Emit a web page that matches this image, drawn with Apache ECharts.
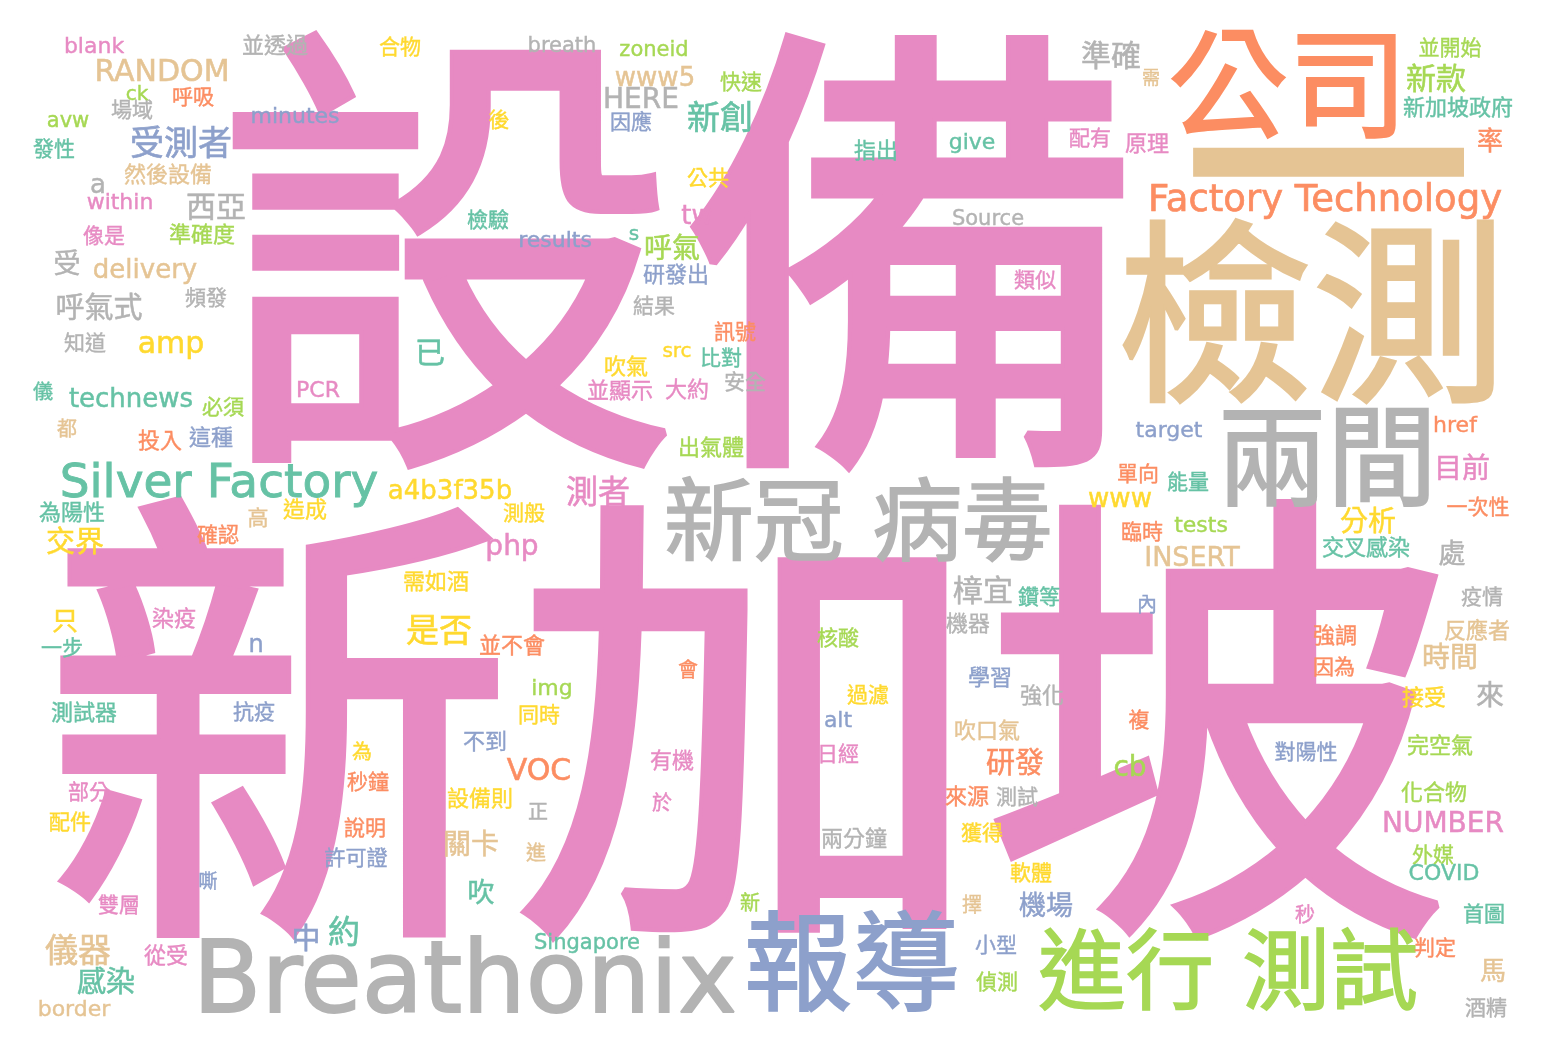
<!DOCTYPE html>
<html>
<head>
<meta charset="utf-8">
<script src="https://cdn.jsdelivr.net/npm/echarts@6.0.0/dist/echarts.min.js"></script>
<style>
  html, body { margin: 0; padding: 0; background: #fff; }
  #main { width: 1548px; height: 1052px; }
</style>
</head>
<body>
<div id="main"></div>
<script>
// word cloud laid out on a 1548 x 1052 plane: [word, weight (font px), x, y]
const pinkWords = [
  ['設備', 465, 680, 258], ['新加坡', 470, 748, 727], ['測者', 32, 598, 492], ['目前', 28, 1462, 468],
  ['php', 28, 512, 545], ['NUMBER', 28, 1443, 822], ['tw', 26, 697, 214], ['blank', 22, 94, 45],
  ['within', 22, 120, 201], ['PCR', 22, 318, 389], ['像是', 21, 104, 236], ['類似', 21, 1035, 280],
  ['配有', 21, 1090, 138], ['原理', 22, 1147, 143], ['染疫', 22, 174, 618], ['並顯示', 22, 620, 390],
  ['大約', 22, 687, 389], ['日經', 21, 838, 754], ['有機', 22, 672, 760], ['於', 20, 662, 803],
  ['部分', 21, 89, 792], ['雙層', 21, 119, 905], ['從受', 22, 166, 955], ['秒', 20, 1305, 915]
];
const tanWords = [
  ['檢測', 195, 1312, 315], ['一', 290, 1328, 170], ['儀器', 33, 78, 950], ['關卡', 28, 471, 844],
  ['時間', 28, 1450, 657], ['RANDOM', 30, 162, 70], ['INSERT', 27, 1192, 556], ['delivery', 26, 145, 268],
  ['www5', 26, 655, 76], ['馬', 26, 1493, 970], ['border', 22, 74, 1008], ['然後設備', 22, 168, 174],
  ['需', 18, 1151, 77], ['都', 20, 67, 429], ['高', 21, 258, 518], ['進', 20, 536, 853],
  ['吹口氣', 22, 987, 730], ['擇', 20, 972, 905], ['反應者', 22, 1477, 630]
];
const grayWords = [
  ['兩間', 110, 1327, 456], ['新冠 病毒', 90, 858, 521], ['Breathonix', 100, 465, 975], ['西亞', 30, 216, 206],
  ['準確', 30, 1111, 55], ['樟宜', 30, 983, 590], ['呼氣式', 29, 99, 307], ['來', 28, 1490, 695],
  ['HERE', 28, 641, 98], ['處', 27, 1452, 553], ['受', 27, 67, 263], ['a', 26, 98, 183],
  ['breath', 21, 562, 45], ['Source', 21, 988, 218], ['並透過', 22, 275, 45], ['場域', 21, 132, 110],
  ['頻發', 21, 206, 298], ['知道', 21, 85, 343], ['結果', 21, 654, 306], ['正', 20, 538, 812],
  ['安全', 21, 745, 382], ['機器', 22, 968, 623], ['強化', 22, 1042, 695], ['測試', 21, 1017, 797],
  ['兩分鐘', 22, 854, 838], ['疫情', 21, 1482, 597], ['酒精', 21, 1486, 1008]
];
const blueWords = [
  ['報導', 108, 852, 963], ['受測者', 34, 181, 142], ['中', 29, 306, 938], ['機場', 27, 1046, 905],
  ['n', 24, 256, 643], ['minutes', 22, 295, 115], ['results', 22, 555, 239], ['target', 22, 1169, 429],
  ['alt', 22, 838, 719], ['因應', 21, 631, 122], ['研發出', 22, 676, 274], ['這種', 22, 211, 437],
  ['不到', 22, 485, 741], ['內', 20, 1147, 605], ['學習', 22, 990, 677], ['小型', 21, 996, 945],
  ['抗疫', 21, 254, 712], ['許可證', 21, 356, 858], ['嘶', 19, 208, 881], ['對陽性', 21, 1306, 752]
];
const greenWords = [
  ['進行 測試', 88, 1228, 970], ['新款', 30, 1436, 78], ['呼氣', 28, 672, 248], ['cb', 28, 1130, 766],
  ['tests', 22, 1201, 524], ['img', 22, 552, 687], ['zoneid', 21, 654, 49], ['avw', 21, 68, 120],
  ['ck', 20, 137, 93], ['準確度', 22, 202, 234], ['快速', 21, 741, 82], ['並開始', 21, 1450, 48],
  ['必須', 21, 223, 407], ['出氣體', 22, 711, 447], ['核酸', 21, 838, 638], ['偵測', 21, 997, 982],
  ['新', 20, 750, 903], ['完空氣', 22, 1440, 745], ['化合物', 22, 1434, 792], ['外媒', 21, 1433, 855]
];
const tealWords = [
  ['Silver Factory', 47, 219, 480], ['新創', 33, 720, 117], ['約', 32, 344, 932], ['已', 30, 430, 352],
  ['感染', 29, 106, 981], ['吹', 27, 481, 892], ['technews', 26, 131, 397], ['give', 22, 972, 141],
  ['COVID', 22, 1444, 872], ['Singapore', 21, 587, 942], ['s', 20, 634, 233], ['發性', 21, 54, 149],
  ['檢驗', 21, 488, 220], ['指出', 22, 876, 150], ['比對', 21, 721, 358], ['新加坡政府', 22, 1458, 107],
  ['儀', 20, 43, 392], ['為陽性', 22, 72, 512], ['一步', 21, 62, 648], ['鑽等', 21, 1039, 597],
  ['測試器', 22, 84, 712], ['能量', 21, 1188, 482], ['交叉感染', 22, 1366, 547], ['首圖', 21, 1484, 914]
];
const orangeWords = [
  ['公司', 120, 1288, 85], ['Factory Technology', 37, 1325, 197], ['研發', 29, 1015, 762], ['VOC', 30, 539, 769],
  ['率', 26, 1490, 140], ['href', 22, 1455, 424], ['呼吸', 21, 193, 97], ['訊號', 21, 735, 332],
  ['投入', 22, 160, 440], ['確認', 21, 218, 535], ['並不會', 22, 512, 645], ['會', 20, 688, 670],
  ['複', 21, 1139, 720], ['來源', 22, 967, 796], ['秒鐘', 21, 368, 782], ['說明', 21, 365, 828],
  ['單向', 21, 1138, 474], ['一次性', 21, 1478, 507], ['臨時', 21, 1142, 532], ['強調', 22, 1335, 635],
  ['因為', 21, 1334, 667], ['判定', 21, 1435, 948]
];
const yellowWords = [
  ['是否', 33, 439, 630], ['交界', 29, 75, 541], ['amp', 30, 171, 342], ['分析', 28, 1368, 521],
  ['a4b3f35b', 26, 450, 489], ['www', 26, 1120, 497], ['只', 26, 65, 620], ['src', 20, 677, 350],
  ['合物', 21, 400, 47], ['後', 21, 499, 120], ['公共', 21, 708, 178], ['造成', 22, 305, 509],
  ['測般', 21, 524, 513], ['需如酒', 22, 436, 581], ['同時', 21, 539, 715], ['設備則', 22, 480, 798],
  ['吹氣', 22, 626, 366], ['過濾', 21, 868, 695], ['獲得', 21, 982, 833], ['軟體', 21, 1031, 873],
  ['為', 20, 362, 752], ['配件', 21, 70, 822], ['接受', 22, 1424, 697]
];

const groups = [
  [pinkWords, '#e78ac3'], [tanWords, '#e5c494'], [grayWords, '#b3b3b3'], [blueWords, '#8da0cb'],
  [greenWords, '#a6d854'], [tealWords, '#66c2a5'], [orangeWords, '#fc8d62'], [yellowWords, '#ffd92f']
];

var chartDom = document.getElementById('main');
var myChart = echarts.init(chartDom);

function makeSeries(list, color) {
  return {
    type: 'scatter',
    symbolSize: 0,
    silent: true,
    clip: false,
    itemStyle: { opacity: 1 },
    emphasis: { disabled: true },
    data: list.map(w => ({
      name: w[0],
      value: [w[2], w[3]],
      label: {
        fontSize: w[1],
        // glyphs sit a little high on the middle line, and the cloud font is heavier
        offset: [0, Math.round(w[1] * 0.105)],
        textBorderWidth: Math.max(0.4, w[1] * 0.018)
      }
    })),
    label: {
      show: true,
      position: 'inside',
      align: 'center',
      verticalAlign: 'middle',
      formatter: p => p.name,
      color: color,
      textBorderColor: color,
      fontFamily: '"DejaVu Sans", "Noto Sans CJK TC", sans-serif'
    }
  };
}

var option = {
  backgroundColor: '#fff',
  animation: false,
  grid: { left: 0, right: 0, top: 0, bottom: 0 },
  xAxis: { type: 'value', min: 0, max: 1548, show: false },
  yAxis: { type: 'value', min: 0, max: 1052, inverse: true, show: false },
  series: groups.map(g => makeSeries(g[0], g[1]))
};

option && myChart.setOption(option);
</script>
</body>
</html>
